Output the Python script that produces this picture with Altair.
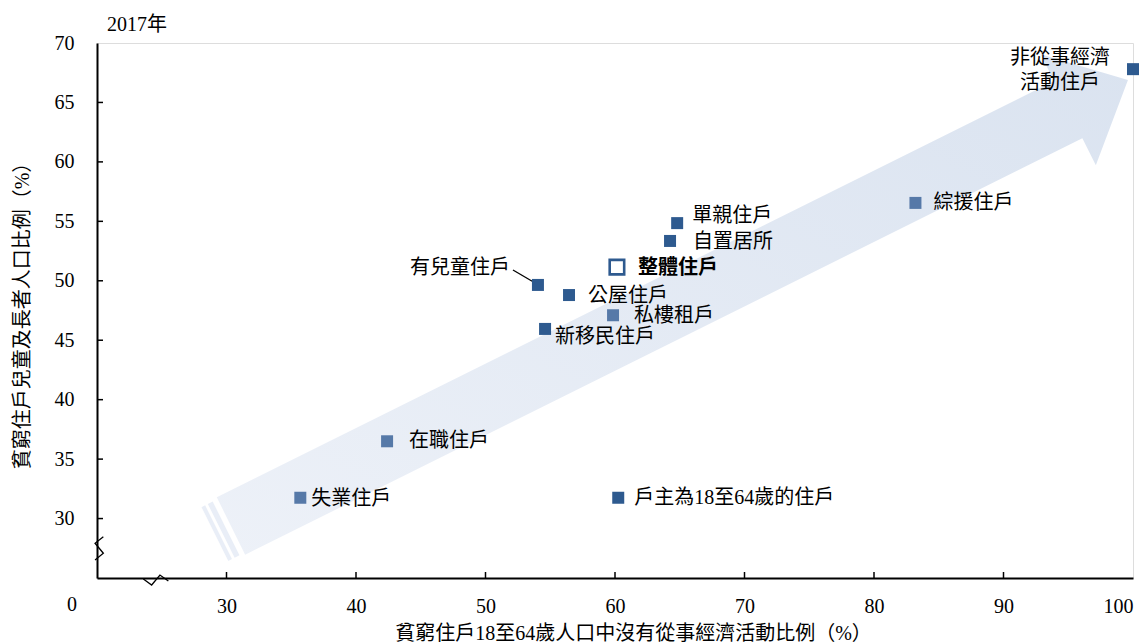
import altair as alt
import pandas as pd

# ---- data ----
names = ["非從事經濟\n活動住戶", "綜援住戶", "單親住戶", "自置居所", "整體住戶", "有兒童住戶",
         "公屋住戶", "私樓租戶", "新移民住戶", "在職住戶", "失業住戶", "戶主為18至64歲的住戶"]
x_vals = [100.0, 83.2, 64.8, 64.25, 60.15, 54.05, 56.45, 59.85, 54.6, 42.4, 35.7, 60.25]
y_vals = [67.8, 56.55, 54.85, 53.35, 51.15, 49.65, 48.8, 47.1, 45.95, 36.5, 31.75, 31.75]
tones = ["dark", "light", "dark", "dark", "overall", "dark", "dark", "light", "dark", "light", "light", "dark"]

# label offsets (px) and alignment
label_dx = [-73, 18, 15, 23, 21, -28, 19, 21, 10, 22, 11, 16]
label_dy = [1, 0, -7, 1, 1, -17, 1, 1, 8, 0, 1, 0]
label_align = ["center", "left", "left", "left", "left", "right", "left", "left", "left", "left", "left", "left"]

x_ticks = [30, 40, 50, 60, 70, 80, 90, 100]
y_ticks = [30, 35, 40, 45, 50, 55, 60, 65, 70]

# decorative arrow (data coordinates)
arrow_x = [29.25, 93.90, 92.87, 99.61, 97.13, 96.09, 31.44]
arrow_y = [31.79, 66.80, 69.06, 66.89, 59.72, 61.98, 26.96]
stripe_b_x = [28.93, 31.00, 30.63, 28.56]
stripe_b_y = [31.43, 26.91, 26.70, 31.22]
stripe_a_x = [28.35, 30.42, 30.14, 28.07]
stripe_a_y = [31.11, 26.59, 26.44, 30.96]

# leader line for 有兒童住戶
leader_x = [52.12, 54.1]
leader_y = [50.91, 49.65]

# axis break zigzags
ybreak_x = [20.49, 19.85, 20.49, 19.85]
ybreak_y = [28.47, 27.92, 27.08, 26.51]
xbreak_x = [23.58, 24.22, 24.86, 25.51]
xbreak_y = [24.92, 24.41, 25.25, 24.75]

DARK = "#2E5A8F"
LIGHT = "#5679A8"
FONT = "Liberation Serif, Noto Sans CJK TC"

W, H = 1036, 535

df = pd.DataFrame({"name": names, "x": x_vals, "y": y_vals, "tone": tones})

xs = alt.Scale(domain=[20, 100], nice=False, zero=False)
ys = alt.Scale(domain=[25, 70], nice=False, zero=False)


def poly(xv, yv):
    return pd.DataFrame({"x": xv, "y": yv, "o": list(range(len(xv)))})


grad = alt.LinearGradient(
    gradient="linear",
    stops=[alt.GradientStop(color="#EDF1F8", offset=0), alt.GradientStop(color="#DAE3F0", offset=1)],
    x1=0, x2=1, y1=1, y2=0,
)

arrow = alt.Chart(poly(arrow_x, arrow_y)).mark_line(
    fill=grad, strokeWidth=0, interpolate="linear-closed"
).encode(
    x=alt.X("x:Q", scale=xs,
            axis=alt.Axis(values=x_ticks, title="貧窮住戶18至64歲人口中沒有從事經濟活動比例（%）",
                          titleX=536, titleY=55, titleBaseline="middle", titleFontSize=20,
                          titleFontWeight="normal", titleFont=FONT,
                          labelFont=FONT, labelFontSize=20, labelPadding=18,
                          labelColor="#000", ticks=False, grid=False,
                          domainColor="#000", domainWidth=2)),
    y=alt.Y("y:Q", scale=ys,
            axis=alt.Axis(values=y_ticks, title="貧窮住戶兒童及長者人口比例（%）",
                          titleX=-75, titleY=H / 2, titleAngle=-90, titleBaseline="middle",
                          titleFontSize=20, titleFontWeight="normal", titleFont=FONT,
                          labelFont=FONT, labelFontSize=20, labelPadding=23,
                          labelColor="#000", ticks=False, grid=False,
                          domainColor="#000", domainWidth=2)),
    order="o:O",
)

stripes = [
    alt.Chart(poly(sx, sy)).mark_line(fill="#E9EEF7", strokeWidth=0, interpolate="linear-closed").encode(
        x=alt.X("x:Q", scale=xs), y=alt.Y("y:Q", scale=ys), order="o:O")
    for sx, sy in [(stripe_b_x, stripe_b_y), (stripe_a_x, stripe_a_y)]
]

xtick = alt.Chart(pd.DataFrame({"v": x_ticks[:-1]})).mark_rule(color="#000", strokeWidth=1.5).encode(
    x=alt.X("v:Q", scale=xs), y=alt.value(H), y2=alt.value(H - 6))
ytick = alt.Chart(pd.DataFrame({"v": y_ticks[:-1]})).mark_rule(color="#000", strokeWidth=1.5).encode(
    y=alt.Y("v:Q", scale=ys), x=alt.value(0), x2=alt.value(6))

breaks = [
    alt.Chart(poly(bx, by)).mark_line(color="#000", strokeWidth=1.3).encode(
        x=alt.X("x:Q", scale=xs), y=alt.Y("y:Q", scale=ys), order="o:O")
    for bx, by in [(ybreak_x, ybreak_y), (xbreak_x, xbreak_y)]
]

leader = alt.Chart(poly(leader_x, leader_y)).mark_line(color="#000", strokeWidth=1.3).encode(
    x=alt.X("x:Q", scale=xs), y=alt.Y("y:Q", scale=ys), order="o:O")

squares = alt.Chart(df).transform_filter(alt.datum.tone != "overall").mark_square(
    size=144, opacity=1).encode(
    x=alt.X("x:Q", scale=xs), y=alt.Y("y:Q", scale=ys),
    color=alt.Color("tone:N", scale=alt.Scale(domain=["dark", "light"], range=[DARK, LIGHT]), legend=None),
)
overall = alt.Chart(df).transform_filter(alt.datum.tone == "overall").mark_point(
    shape="square", size=210, fill="white", stroke=DARK, strokeWidth=2.6, opacity=1, filled=False).encode(
    x=alt.X("x:Q", scale=xs), y=alt.Y("y:Q", scale=ys))

labels = []
for i, nm in enumerate(names):
    txt = nm.split("\n")
    labels.append(
        alt.Chart(df).transform_filter(alt.datum.name == nm).mark_text(
            text=txt if len(txt) > 1 else txt[0], align=label_align[i], baseline="middle",
            dx=label_dx[i], dy=label_dy[i] - (12 if len(txt) > 1 else 0), lineHeight=25,
            font=FONT, fontSize=20, color="#000",
            fontWeight="bold" if tones[i] == "overall" else "normal",
        ).encode(x=alt.X("x:Q", scale=xs), y=alt.Y("y:Q", scale=ys))
    )

year = alt.Chart(pd.DataFrame({"t": ["2017年"]})).mark_text(
    align="left", baseline="middle", font=FONT, fontSize=20, color="#000").encode(
    text="t:N", x=alt.value(10), y=alt.value(-18))
zero = alt.Chart(pd.DataFrame({"t": ["0"]})).mark_text(
    align="center", baseline="middle", font=FONT, fontSize=20, color="#000").encode(
    text="t:N", x=alt.value(-25), y=alt.value(H + 27))

chart = alt.layer(
    arrow, *stripes, xtick, ytick, *breaks, leader, squares, overall, *labels, year, zero
).properties(
    width=W, height=H,
    autosize=alt.AutoSizeParams(type="none"),
    padding={"left": 89, "top": 35, "right": 7, "bottom": 66},
).configure_view(stroke="#333", strokeWidth=1.5).configure(background="white")

chart.save("out.html", embed_options={"renderer": "svg", "actions": False})
